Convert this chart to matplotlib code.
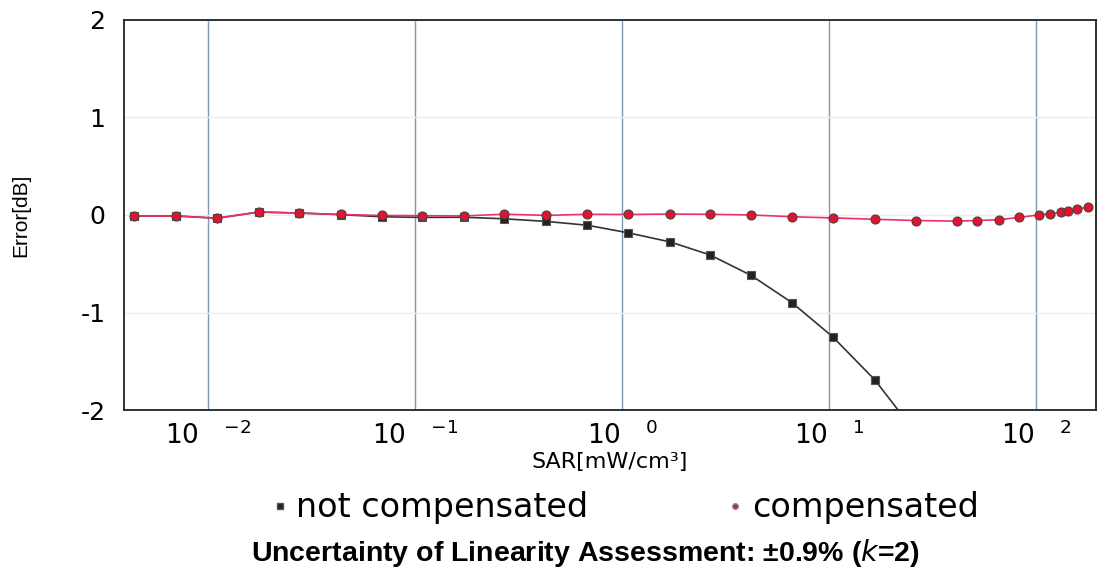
import matplotlib.pyplot as plt
from matplotlib.lines import Line2D

# SAR values [mW/cm3]
sar = [0.0044, 0.0070, 0.0110, 0.0175, 0.0275, 0.0440, 0.069, 0.108, 0.171,
       0.269, 0.430, 0.678, 1.07, 1.71, 2.66, 4.20, 6.62, 10.4, 16.6, 26.3,
       41.5, 51.9, 66.1, 82.8, 103, 116, 131, 143, 158, 178]

compensated = [-0.01, -0.01, -0.033, 0.03, 0.02, 0.005, -0.005, -0.007, -0.01,
               0.008, -0.004, 0.007, 0.005, 0.01, 0.007, 0.0, -0.018, -0.03,
               -0.044, -0.057, -0.063, -0.057, -0.048, -0.025, 0.001, 0.012,
               0.027, 0.046, 0.06, 0.08]

not_compensated = [-0.01, -0.01, -0.033, 0.03, 0.02, 0.003, -0.018, -0.025,
                   -0.023, -0.039, -0.066, -0.105, -0.183, -0.277, -0.41,
                   -0.62, -0.90, -1.25, -1.69, -2.24]

xticks = [0.01, 0.1, 1, 10, 100]
xtick_labels = ['10   $^{-2}$', '10   $^{-1}$', '10   $^{0}$', '10   $^{1}$', '10   $^{2}$']
yticks = [-2, -1, 0, 1, 2]

fig = plt.figure(figsize=(11.04, 5.85), dpi=100)
ax = fig.add_axes([0.112, 0.299, 0.881, 0.667])

ax.plot(sar[:len(not_compensated)], not_compensated, color='#333333', lw=1.2,
        marker='s', ms=6, mfc='#222222', mec='#555555', mew=0.8, zorder=3)
ax.plot(sar, compensated, color='#f0306a', lw=1.2,
        marker='o', ms=6.5, mfc='#e3132f', mec='#444444', mew=0.8, zorder=4)

ax.set_xscale('log')
ax.set_xlim(0.0039, 195)
ax.set_ylim(-2, 2)
ax.set_xticks(xticks)
ax.set_xticklabels(xtick_labels)
ax.minorticks_off()
ax.set_yticks(yticks)
ax.set_yticklabels([str(v) for v in yticks])
ax.tick_params(axis='x', length=0, labelsize=19, pad=8)
ax.tick_params(axis='y', length=0, labelsize=18, pad=13)

ax.grid(axis='x', color='#7e98b0', lw=1.0)
ax.grid(axis='y', color='#ececec', lw=1.0)
for sp in ax.spines.values():
    sp.set_color('#222222')
    sp.set_linewidth(1.3)

ax.set_xlabel('SAR[mW/cm³]', fontsize=16, labelpad=2)
ax.set_ylabel('Error[dB]', fontsize=15, labelpad=36,
              family=['Liberation Sans Narrow', 'Liberation Sans'])

handles = [
    Line2D([], [], ls='none', marker='s', ms=4, mfc='#222222', mec='#555555'),
    Line2D([], [], ls='none', marker='o', ms=4, mfc='#e3132f', mec='#888888'),
]
fig.legend(handles, ['not compensated', 'compensated'], loc='center',
           bbox_to_anchor=(0.567, 0.132), ncol=2, frameon=False, fontsize=24,
           handlelength=0.4, handletextpad=0.3, columnspacing=4.2)

fig.text(0.53, 0.055, 'Uncertainty of Linearity Assessment: ±0.9% ($\\mathbf{\\it{k}}$=2)',
         ha='center', va='center', fontsize=20.5, fontweight='bold',
         family=['Liberation Sans Narrow', 'Liberation Sans'])

fig.savefig('out.png', dpi=100)
